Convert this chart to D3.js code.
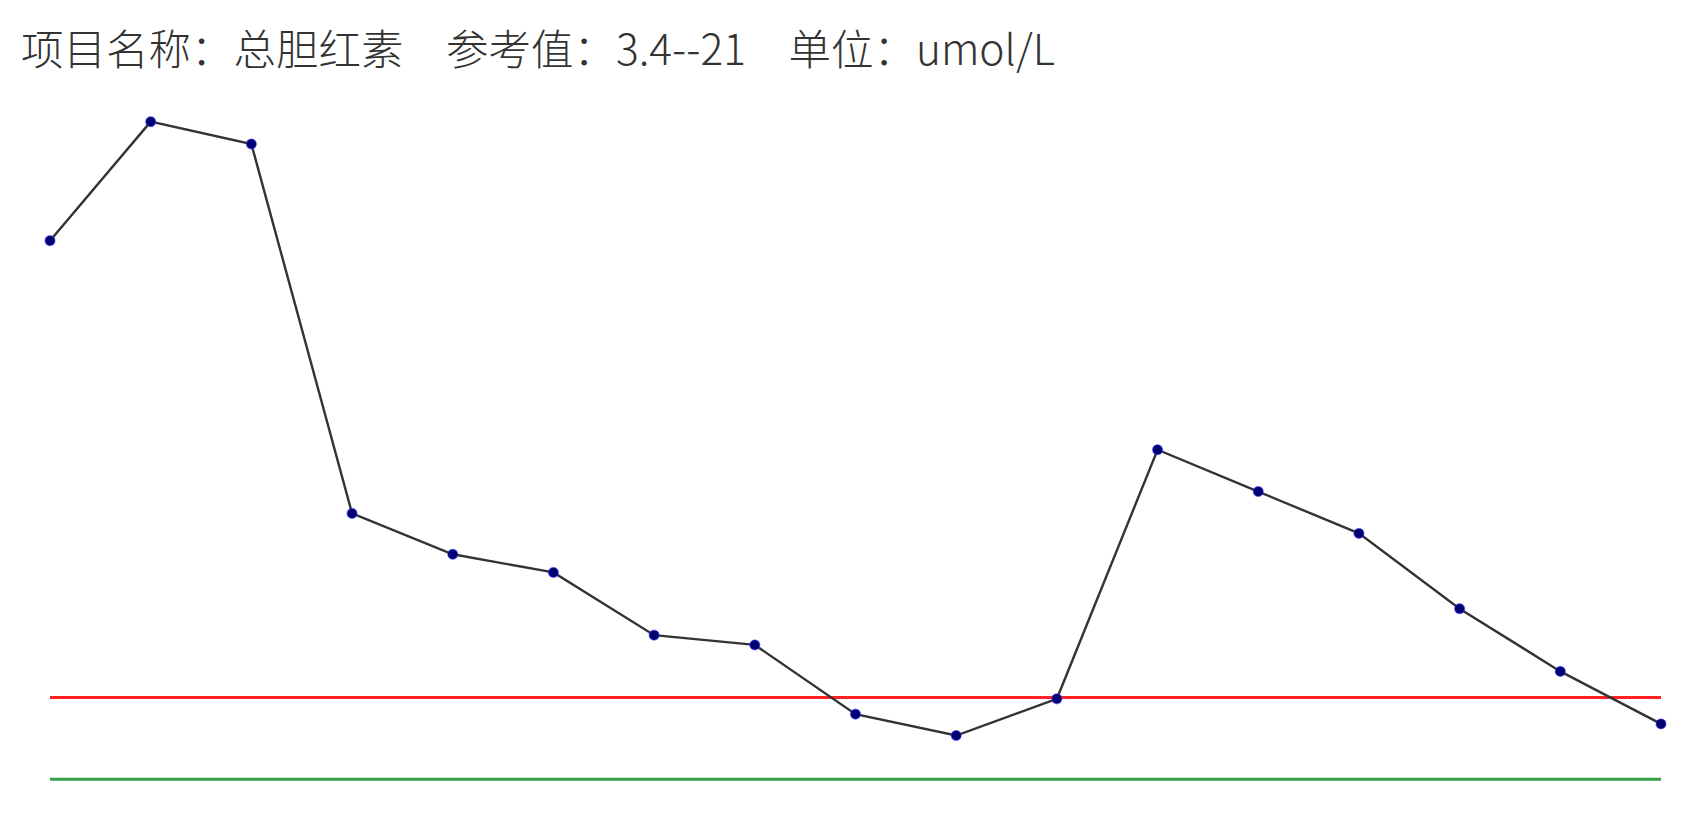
<!DOCTYPE html>
<html>
<head>
<meta charset="utf-8">
<script src="https://cdn.jsdelivr.net/npm/d3@7"></script>
<style>
  html, body { margin: 0; padding: 0; background: #fff; }
</style>
</head>
<body>
<div id="chart"></div>
<script>
// total bilirubin, one value per test
const tests = ["1", "2", "3", "4", "5", "6", "7", "8", "9", "10", "11", "12", "13", "14", "15", "16", "17"];
const values = [119.3, 144.9, 140.1, 60.6, 51.8, 47.9, 34.4, 32.3, 17.4, 12.8, 20.7, 74.3, 65.3, 56.3, 40.1, 26.6, 15.3];
const refLow = 3.4;
const refHigh = 21;
const titleParts = ["项目名称：总胆红素", "参考值：3.4--21", "单位：umol/L"];

const width = 1688, height = 813;

const svg = d3.select("#chart")
              .append("svg")
              .attr("width", width)
              .attr("height", height);

svg.append("text")
   .attr("x", 21)
   .attr("y", 65)
   .style("font-family", "'Noto Sans CJK SC', 'Noto Sans', sans-serif")
   .style("font-size", "42.5px")
   .style("font-weight", 300)
   .attr("fill", "#333")
   .text(titleParts.join("\u3000"));

const x = d3.scalePoint().domain(tests).range([50, 1661]);
const y = d3.scaleLinear().domain([0, 150]).range([795, 98]);

// reference range lines
svg.append("line")
   .attr("x1", x(tests[0])).attr("x2", x(tests[tests.length - 1]))
   .attr("y1", y(refHigh)).attr("y2", y(refHigh))
   .attr("stroke", "#f22")
   .attr("stroke-width", 3);

svg.append("line")
   .attr("x1", x(tests[0])).attr("x2", x(tests[tests.length - 1]))
   .attr("y1", y(refLow)).attr("y2", y(refLow))
   .attr("stroke", "#35a04a")
   .attr("stroke-width", 3);

const data = tests.map((t, i) => ({test: t, value: values[i]}));

const line = d3.line()
               .x(d => x(d.test))
               .y(d => y(d.value));

svg.append("path")
   .datum(data)
   .attr("fill", "none")
   .attr("stroke", "#333")
   .attr("stroke-width", 2.4)
   .attr("d", line);

svg.selectAll("circle")
   .data(data)
   .enter().append("circle")
   .attr("cx", d => x(d.test))
   .attr("cy", d => y(d.value))
   .attr("r", 5)
   .attr("fill", "#000070")
   .attr("stroke", "#3030ff")
   .attr("stroke-opacity", 0.5)
   .attr("stroke-width", 1.2);
</script>
</body>
</html>
